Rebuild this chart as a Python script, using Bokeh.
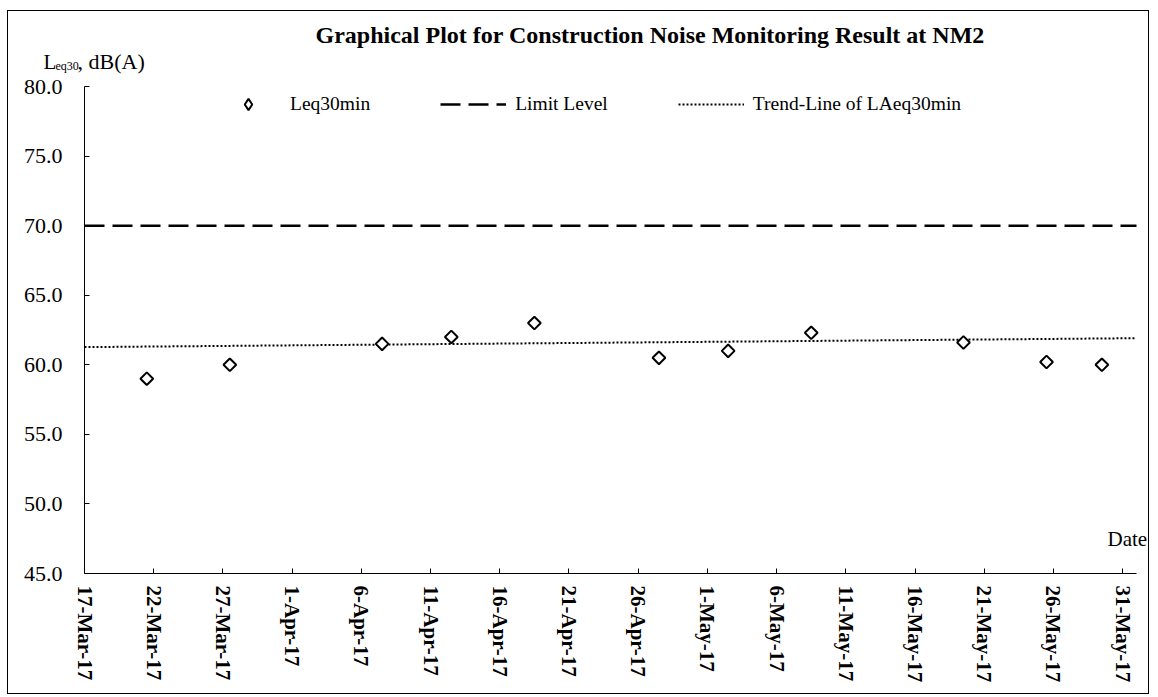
import math
import pandas as pd
from bokeh.plotting import figure
from bokeh.models import Range1d, FixedTicker, Label, Legend, LegendItem
from bokeh.embed import file_html
from bokeh.resources import INLINE

# ---------------- data ----------------
dates = ["2017-03-21 12:00", "2017-03-27 12:00", "2017-04-07 12:00", "2017-04-12 12:00",
         "2017-04-18 12:00", "2017-04-27 12:00", "2017-05-02 12:00", "2017-05-08 12:00",
         "2017-05-19 12:00", "2017-05-25 12:00", "2017-05-29 12:00"]
leq30 = [59.0, 60.0, 61.5, 62.0, 63.0, 60.5, 61.0, 62.3, 61.6, 60.2, 60.0]
limit_level = 70.0
trend_dates = ["2017-03-17 00:00", "2017-05-31 22:00"]
trend_values = [61.27, 61.91]
tick_dates = ["2017-03-17", "2017-03-22", "2017-03-27", "2017-04-01", "2017-04-06",
              "2017-04-11", "2017-04-16", "2017-04-21", "2017-04-26", "2017-05-01",
              "2017-05-06", "2017-05-11", "2017-05-16", "2017-05-21", "2017-05-26",
              "2017-05-31"]
tick_labels = ["17-Mar-17", "22-Mar-17", "27-Mar-17", "1-Apr-17", "6-Apr-17", "11-Apr-17",
               "16-Apr-17", "21-Apr-17", "26-Apr-17", "1-May-17", "6-May-17", "11-May-17",
               "16-May-17", "21-May-17", "26-May-17", "31-May-17"]
y_ticks = [45.0, 50.0, 55.0, 60.0, 65.0, 70.0, 75.0, 80.0]
x_start, x_end = "2017-03-17", "2017-06-01"
title_text = "Graphical Plot for Construction Noise Monitoring Result at NM2"
x_title = "Date"
series_names = ["Leq30min", "Limit Level", "Trend-Line of LAeq30min"]

FONT = "Liberation Serif"

def ms(s):
    return pd.Timestamp(s).value / 1e6

xs = [ms(d) for d in dates]
x0, x1 = ms(x_start), ms(x_end)
y0, y1 = y_ticks[0], y_ticks[-1]

# ---------------- layout (page pixels) ----------------
W, H = 1142, 684
OX, OY = 8, 11                       # canvas top-left on the page
FL, FR, FT, FB = 84, 1136, 86, 573   # plot-area edges on the page

def xd(px):
    return x0 + (px - FL) / (FR - FL) * (x1 - x0)

def yd(py):
    return y1 - (py - FT) / (FB - FT) * (y1 - y0)

# the drawing frame spans the whole canvas; axes are pinned to the plot area
p = figure(width=W, height=H, output_backend="svg", toolbar_location=None,
           x_range=Range1d(xd(OX), xd(OX + W)), y_range=Range1d(yd(OY + H), yd(OY)),
           min_border_left=0, min_border_right=0, min_border_top=0, min_border_bottom=0)
p.styles = {"border": "1px solid black", "margin-left": "7px", "margin-top": "10px"}
p.outline_line_color = None
p.grid.visible = False
p.background_fill_color = "white"
p.border_fill_color = "white"

lim = p.line([x0, x1], [limit_level, limit_level], line_color="black",
             line_width=2.5, line_dash="20 8")
tr = p.line([ms(d) for d in trend_dates], trend_values, line_color="black",
            line_width=2, line_dash="2 2")
sc = p.scatter(xs, leq30, marker="square", angle=math.pi / 4, size=9,
               fill_color="white", line_color="black", line_width=2)
# legend swatch (the legend ignores marker angles, so use an upright diamond)
sw = p.scatter(xs, leq30, marker="diamond", fill_color="white", line_color="black",
               line_width=2, visible=False)

for ax in (p.xaxis[0], p.yaxis[0]):
    ax.axis_line_color = "black"
    ax.axis_line_width = 1
    ax.major_tick_in = 5
    ax.major_tick_out = 0
    ax.minor_tick_line_color = None
    ax.major_tick_line_color = "black"
    ax.major_label_text_font = FONT
    ax.major_label_text_color = "black"

tick_ms = [ms(d) for d in tick_dates]
p.xaxis.fixed_location = y0
p.xaxis.bounds = (x0, x1)
p.xaxis.ticker = FixedTicker(ticks=tick_ms)
p.xaxis.major_label_overrides = {t: l for t, l in zip(tick_ms, tick_labels)}
p.xaxis.major_label_orientation = -math.pi / 2
p.xaxis.major_label_text_font_style = "bold"
p.xaxis.major_label_text_font_size = "21px"
p.xaxis.major_label_standoff = 12

p.yaxis.fixed_location = x0
p.yaxis.bounds = (y0, y1)
p.yaxis.ticker = FixedTicker(ticks=y_ticks)
p.yaxis.major_label_overrides = {t: f"{t:.1f}" for t in y_ticks}
p.yaxis.major_label_text_font_size = "22px"
p.yaxis.major_label_standoff = 22

legend = Legend(items=[LegendItem(label=series_names[0], renderers=[sw]),
                       LegendItem(label=series_names[1], renderers=[lim]),
                       LegendItem(label=series_names[2], renderers=[tr])],
                orientation="horizontal", location=(215 - OX, OY + H - 118),
                border_line_color=None, background_fill_alpha=0,
                glyph_width=66, glyph_height=28, label_height=20,
                label_standoff=9, spacing=70, padding=0, margin=0,
                label_text_font=FONT, label_text_font_size="19.5px",
                label_text_color="black", inactive_fill_alpha=0)
p.add_layout(legend)

def lbl(text, px, py, size, **kw):
    p.add_layout(Label(x=xd(px), y=yd(py), text=text, text_font=FONT,
                       text_font_size=size, text_color="black", **kw))

lbl(title_text, 315, 34, "24px", text_font_style="bold", text_baseline="middle")
lbl("L", 43, 61, "21px", text_baseline="alphabetic")
lbl("eq30", 55, 65, "12px", text_baseline="alphabetic")
lbl(", dB(A)", 77, 61, "22px", text_baseline="alphabetic")
lbl(x_title, 1107, 538, "21px", text_baseline="middle")

open("out.html", "w").write(file_html(p, INLINE))
